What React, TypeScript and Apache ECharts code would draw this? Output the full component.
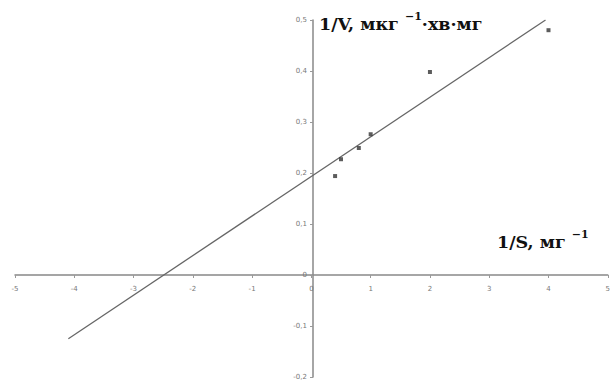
import React, { useEffect, useRef } from "react";
import * as echarts from "echarts";

const xTicks = [-5, -4, -3, -2, -1, 0, 1, 2, 3, 4, 5];
const yTicks = [-0.2, -0.1, 0, 0.1, 0.2, 0.3, 0.4, 0.5];
const invS = [0.4, 0.5, 0.8, 1, 2, 4];
const invV = [0.194, 0.227, 0.249, 0.276, 0.398, 0.48];
const fitLine = [
  [-4.1, -0.125],
  [3.95, 0.5],
];

const fmt = (v: number) => {
  const r = Math.round(v * 10) / 10;
  return String(r).replace(".", ",");
};

const W = 613;
const H = 385;
const G = { left: 15, right: 2, top: 20, bottom: 8 };

export default function App() {
  const ref = useRef<HTMLDivElement>(null);
  useEffect(() => {
    if (!ref.current) return;
    const chart = echarts.init(ref.current, null, { renderer: "svg" });
    const xMin = xTicks[0];
    const xMax = xTicks[xTicks.length - 1];
    const yMin = yTicks[0];
    const yMax = yTicks[yTicks.length - 1];
    const gw = W - G.left - G.right;
    const gh = H - G.top - G.bottom;
    const xOffset = -(gh * (0 - yMin)) / (yMax - yMin);
    const yOffset = -(gw * (0 - xMin)) / (xMax - xMin);
    const axisLabel = { fontSize: 7, color: "#777", fontFamily: "DejaVu Sans" };
    const rich = {
      a: { fontSize: 17.5, fontWeight: "bold", fontFamily: "DejaVu Serif", fill: "#111", lineHeight: 22, verticalAlign: "bottom" },
      s: { fontSize: 11, fontWeight: "bold", fontFamily: "DejaVu Serif", fill: "#111", lineHeight: 22, verticalAlign: "top" },
    };
    chart.setOption({
      animation: false,
      backgroundColor: "#fff",
      grid: { ...G, containLabel: false },
      xAxis: {
        type: "value",
        min: xMin,
        max: xMax,
        interval: 1,
        position: "bottom",
        offset: xOffset,
        axisLine: { onZero: false, lineStyle: { color: "#888", width: 1.5 } },
        axisTick: { show: true, length: 3, lineStyle: { color: "#999" } },
        axisLabel: { ...axisLabel, margin: 10, formatter: (v: number) => String(v) },
        splitLine: { show: false },
      },
      yAxis: {
        type: "value",
        min: yMin,
        max: yMax,
        interval: 0.1,
        position: "left",
        offset: yOffset,
        axisLine: { onZero: false, lineStyle: { color: "#888", width: 1.5 } },
        axisTick: { show: true, length: 3, lineStyle: { color: "#999" } },
        axisLabel: { ...axisLabel, margin: 6, formatter: (v: number) => fmt(v) },
        splitLine: { show: false },
      },
      series: [
        {
          type: "line",
          data: fitLine,
          symbol: "none",
          lineStyle: { color: "#666", width: 1.3 },
          z: 2,
        },
        {
          type: "scatter",
          data: invS.map((x, i) => [x, invV[i]]),
          symbol: "rect",
          symbolSize: 4,
          itemStyle: { color: "#333" },
          z: 3,
        },
      ],
      graphic: [
        {
          type: "text",
          left: 319,
          top: 11,
          style: { text: "{a|1/V, мкг }{s|−1}{a|·хв·мг}", rich },
        },
        {
          type: "text",
          left: 497,
          top: 229,
          style: { text: "{a|1/S, мг }{s|−1}", rich },
        },
      ],
    });
    return () => chart.dispose();
  }, []);
  return <div ref={ref} style={{ width: W, height: H, position: "absolute", left: 0, top: 0 }} />;
}
